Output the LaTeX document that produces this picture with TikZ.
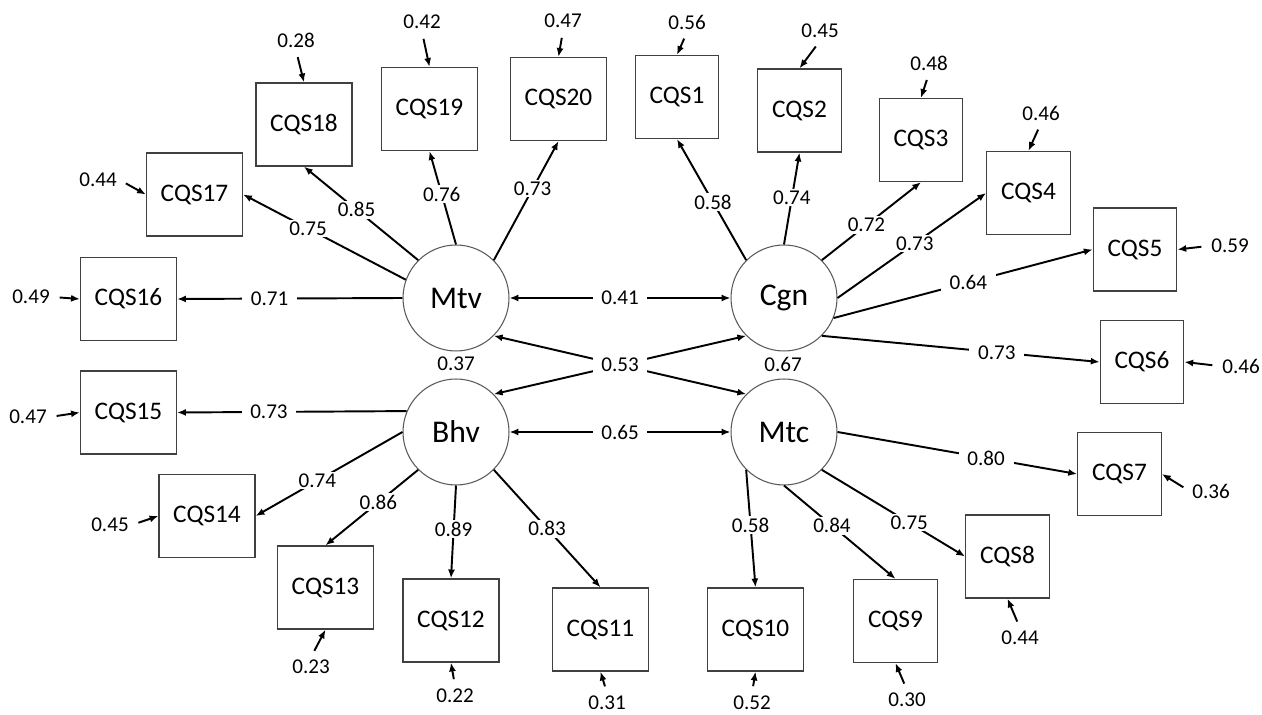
\documentclass[tikz,border=0pt]{standalone}
\usepackage{fontspec}
\setmainfont{Carlito}
\usetikzlibrary{arrows.meta}

\tikzset{
  latent/.style={circle, draw=black!65, line width=0.6pt, minimum size=2.12cm, inner sep=0pt, font=\fontsize{18}{20}\selectfont},
  item/.style={rectangle, draw=black!75, line width=0.75pt, minimum width=1.92cm, minimum height=1.66cm, inner sep=0pt, font=\fontsize{14.4}{16}\selectfont},
  itemsm/.style={item, minimum width=1.67cm},
  coef/.style={fill=white, inner xsep=5pt, inner ysep=1pt, font=\fontsize{12}{14}\selectfont},
  resid/.style={inner sep=1.5pt, font=\fontsize{12}{14}\selectfont},
  load/.style={line width=1.1pt, -{Latex[length=5pt,width=4pt]}},
  corr/.style={line width=1.1pt, {Latex[length=5pt,width=4pt]}-{Latex[length=5pt,width=4pt]}},
  err/.style={line width=1.1pt, shorten <=4pt, -{Latex[length=5pt,width=4pt]}}
}

\begin{document}
\begin{tikzpicture}[x=0.02cm, y=-0.02cm]
\useasboundingbox (0,0) rectangle (1262,715);

% latent factors
\node[latent] (mtv) at (456,298) {Mtv};
\node[latent] (cgn) at (784,298) {Cgn};
\node[latent] (bhv) at (456,432) {Bhv};
\node[latent] (mtc) at (784,432) {Mtc};

% items
\node[itemsm] (q1) at (677,97) {CQS1};
\node[itemsm] (q2) at (799.5,110.5) {CQS2};
\node[itemsm] (q3) at (921,140) {CQS3};
\node[itemsm] (q4) at (1028.5,193) {CQS4};
\node[itemsm] (q5) at (1135,249.5) {CQS5};
\node[itemsm] (q6) at (1142,362) {CQS6};
\node[itemsm] (q7) at (1119.5,474) {CQS7};
\node[itemsm] (q8) at (1007.5,556.5) {CQS8};
\node[itemsm] (q9) at (895.5,621) {CQS9};
\node[item] (q10) at (755.5,629.5) {CQS10};
\node[item] (q11) at (600.5,629.5) {CQS11};
\node[item] (q12) at (451,620.5) {CQS12};
\node[item] (q13) at (325.5,587.5) {CQS13};
\node[item] (q14) at (207,516) {CQS14};
\node[item] (q15) at (128.5,412.5) {CQS15};
\node[item] (q16) at (128.5,299) {CQS16};
\node[item] (q17) at (194.5,194.5) {CQS17};
\node[item] (q18) at (304,124.5) {CQS18};
\node[item] (q19) at (429.5,109) {CQS19};
\node[item] (q20) at (558.5,99) {CQS20};

% loadings
\draw[load] (mtv.180) -- node[coef, pos=0.59] (l16) {0.71} (q16.east);
\draw[load] (mtv.160) -- node[coef, pos=0.60] (l17) {0.75} (q17.east);
\draw[load] (mtv.135) -- node[coef, pos=0.54] (l18) {0.85} (q18.south);
\draw[load] (mtv.90) -- node[coef, pos=0.54] (l19) {0.76} (q19.south);
\draw[load] (mtv.45) -- node[coef, pos=0.60] (l20) {0.73} (q20.south);

\draw[load] (cgn.135) -- node[coef, pos=0.48] (l1) {0.58} (q1.south);
\draw[load] (cgn.90) -- node[coef, pos=0.51] (l2) {0.74} (q2.south);
\draw[load] (cgn.45) -- node[coef, pos=0.45] (l3) {0.72} (q3.south);
\draw[load] (cgn.0) -- node[coef, pos=0.52] (l4) {0.73} (q4.west);
\draw[load] (cgn.-22.5) -- node[coef, pos=0.52] (l5) {0.64} (q5.west);
\draw[load] (cgn.-45) -- node[coef, pos=0.63] (l6) {0.73} (q6.west);

\draw[load] (mtc.0) -- node[coef, pos=0.62] (l7) {0.80} (q7.west);
\draw[load] (mtc.-45) -- node[coef, pos=0.61] (l8) {0.75} (q8.west);
\draw[load] (mtc.-90) -- node[coef, pos=0.43] (l9) {0.84} (q9.north);
\draw[load] (mtc.-135) -- node[coef, pos=0.47] (l10) {0.58} (q10.north);

\draw[load] (bhv.-45) -- node[coef, pos=0.50] (l11) {0.83} (q11.north);
\draw[load] (bhv.-90) -- node[coef, pos=0.47] (l12) {0.89} (q12.north);
\draw[load] (bhv.-135) -- node[coef, pos=0.43] (l13) {0.86} (q13.north);
\draw[load] (bhv.180) -- node[coef, pos=0.58] (l14) {0.74} (q14.east);
\draw[load] (bhv.157.5) -- node[coef, pos=0.60] (l15) {0.73} (q15.east);

% correlations
\draw[corr] (mtv.east) -- node[coef] (c1) {0.41} (cgn.west);
\draw[corr] (bhv.east) -- node[coef] (c2) {0.65} (mtc.west);
\draw[corr] (mtv.-45) -- (mtc.135);
\draw[corr] (bhv.45) -- node[coef] (c3) {0.53} (cgn.-135);

\node[resid] (r1) at (456,364) {0.37};
\node[resid] (r2) at (783,364) {0.67};

% error terms
\node[resid] (e1) at (687,22) {0.56};
\node[resid] (e2) at (820,31) {0.45};
\node[resid] (e3) at (929,63) {0.48};
\node[resid] (e4) at (1041,113) {0.46};
\node[resid] (e5) at (1230,246) {0.59};
\node[resid] (e6) at (1241,366) {0.46};
\node[resid] (e7) at (1211,491) {0.36};
\node[resid] (e8) at (1020,638) {0.44};
\node[resid] (e9) at (907,700) {0.30};
\node[resid] (e10) at (752,703) {0.52};
\node[resid] (e11) at (607,703) {0.31};
\node[resid] (e12) at (455,696) {0.22};
\node[resid] (e13) at (311,667) {0.23};
\node[resid] (e14) at (110,525) {0.45};
\node[resid] (e15) at (28,417) {0.47};
\node[resid] (e16) at (31,297) {0.49};
\node[resid] (e17) at (98,180) {0.44};
\node[resid] (e18) at (296,40) {0.28};
\node[resid] (e19) at (422,22) {0.42};
\node[resid] (e20) at (563,21) {0.47};

\draw[err] (e1.south) -- (q1.north);
\draw[err] (e2.south) -- (q2.north);
\draw[err] (e3.south) -- (q3.north);
\draw[err] (e4.south) -- (q4.north);
\draw[err] (e5.west) -- (q5.east);
\draw[err] (e6.west) -- (q6.east);
\draw[err] (e7.west) -- (q7.east);
\draw[err] (e8.north) -- (q8.south);
\draw[err] (e9.north) -- (q9.south);
\draw[err] (e10.north) -- (q10.south);
\draw[err] (e11.north) -- (q11.south);
\draw[err] (e12.north) -- (q12.south);
\draw[err] (e13.north) -- (q13.south);
\draw[err] (e14.east) -- (q14.west);
\draw[err] (e15.east) -- (q15.west);
\draw[err] (e16.east) -- (q16.west);
\draw[err] (e17.east) -- (q17.west);
\draw[err] (e18.south) -- (q18.north);
\draw[err] (e19.south) -- (q19.north);
\draw[err] (e20.south) -- (q20.north);
\end{tikzpicture}
\end{document}
